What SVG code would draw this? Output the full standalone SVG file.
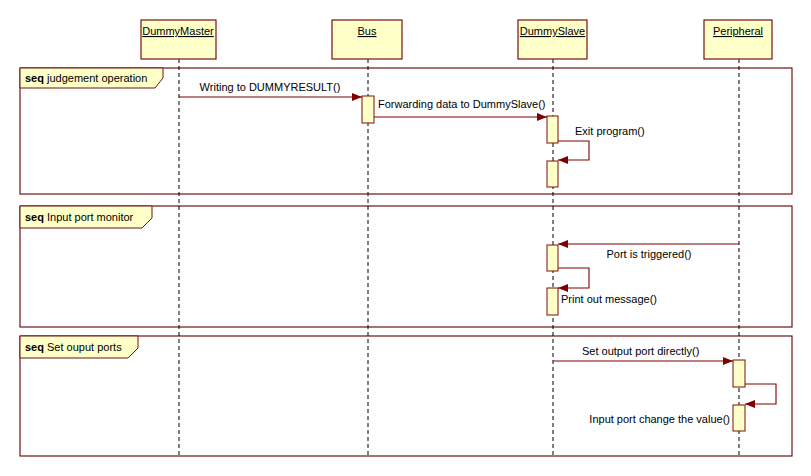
<svg xmlns="http://www.w3.org/2000/svg" width="811" height="476" viewBox="0 0 811 476">
<defs>
<style>
.bg{fill:#ffffff}
.box{fill:#ffffc8;stroke:#7a0f0f;stroke-width:1.2}
.frame{fill:none;stroke:#6e1414;stroke-width:1.2}
.tab{fill:#ffffc8;stroke:#6e1414;stroke-width:1}
.life{stroke:#000;stroke-width:1;stroke-dasharray:4 3}
.act{fill:#ffffc8;stroke:#7a0f0f;stroke-width:1}
.msg{fill:none;stroke:#800000;stroke-width:1.1}
text{font-family:"Liberation Sans",Arial,sans-serif;font-size:11px;fill:#000}
.hd{text-anchor:middle;text-decoration:underline}
.b{font-weight:bold}
</style>
<marker id="ah" markerUnits="userSpaceOnUse" markerWidth="11" markerHeight="8" refX="10" refY="4" orient="auto">
<path d="M0,0 L10,4 L0,8 Z" fill="#800000"/>
</marker>
</defs>
<rect class="bg" x="0" y="0" width="811" height="476"/>

<g id="frames">
<g id="frame1">
<rect class="frame" x="20" y="68" width="772" height="126"/>
<path class="tab" d="M20,68 H163 V78 L155,88 H20 Z"/>
<text x="25" y="82"><tspan class="b">seq</tspan> judgement operation</text>
</g>
<g id="frame2">
<rect class="frame" x="20" y="206" width="772" height="121"/>
<path class="tab" d="M20,206 H152 V218 L142,228 H20 Z"/>
<text x="25" y="221"><tspan class="b">seq</tspan> Input port monitor</text>
</g>
<g id="frame3">
<rect class="frame" x="20" y="336" width="772" height="120"/>
<path class="tab" d="M20,336 H138 V348 L128,358 H20 Z"/>
<text x="25" y="351"><tspan class="b">seq</tspan> Set ouput ports</text>
</g>
</g>

<g id="DummyMaster">
<line class="life" x1="179" y1="59" x2="179" y2="456"/>
<rect class="box" x="141" y="20" width="75" height="39"/>
<text class="hd" x="178" y="35">DummyMaster</text>
</g>
<g id="Bus">
<line class="life" x1="368" y1="59" x2="368" y2="456"/>
<rect class="box" x="332" y="20" width="70" height="39"/>
<text class="hd" x="367" y="35">Bus</text>
<rect class="act" x="362" y="96" width="12" height="27"/>
</g>
<g id="DummySlave">
<line class="life" x1="553" y1="59" x2="553" y2="456"/>
<rect class="box" x="518" y="20" width="69" height="39"/>
<text class="hd" x="552.5" y="35">DummySlave</text>
<rect class="act" x="547" y="116" width="11" height="27"/>
<rect class="act" x="547" y="161" width="11" height="26"/>
<rect class="act" x="547" y="245" width="11" height="26"/>
<rect class="act" x="547" y="288" width="11" height="27"/>
</g>
<g id="Peripheral">
<line class="life" x1="739" y1="59" x2="739" y2="456"/>
<rect class="box" x="704" y="20" width="68" height="39"/>
<text class="hd" x="738" y="35">Peripheral</text>
<rect class="act" x="733" y="360" width="12" height="27"/>
<rect class="act" x="733" y="405" width="12" height="26"/>
</g>

<g id="connectors">
<line class="msg" x1="179" y1="97" x2="362" y2="97" marker-end="url(#ah)"/>
<line class="msg" x1="374" y1="117" x2="547" y2="117" marker-end="url(#ah)"/>
<polyline class="msg" points="558,141 589,141 589,160 558,160" marker-end="url(#ah)"/>
<line class="msg" x1="739" y1="244" x2="558" y2="244" marker-end="url(#ah)"/>
<polyline class="msg" points="558,268 589,268 589,288 558,288" marker-end="url(#ah)"/>
<line class="msg" x1="553" y1="361" x2="733" y2="361" marker-end="url(#ah)"/>
<polyline class="msg" points="745,384 776,384 776,404 745,404" marker-end="url(#ah)"/>
<text x="270" y="91" text-anchor="middle">Writing to DUMMYRESULT()</text>
<text x="378" y="108">Forwarding data to DummySlave()</text>
<text x="575" y="135">Exit program()</text>
<text x="649" y="258" text-anchor="middle">Port is triggered()</text>
<text x="561" y="303">Print out message()</text>
<text x="582" y="355">Set output port directly()</text>
<text x="730" y="423" text-anchor="end">Input port change the value()</text>
</g>
</svg>
